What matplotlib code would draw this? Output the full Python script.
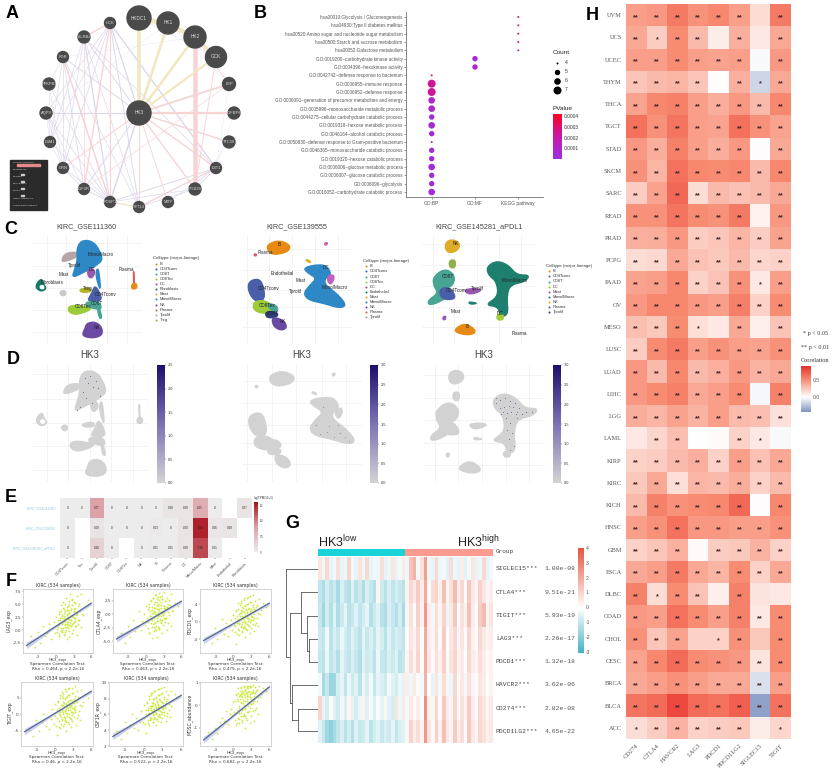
import numpy as np
import matplotlib
matplotlib.use("Agg")
import matplotlib.pyplot as plt
from matplotlib.colors import LinearSegmentedColormap, Normalize
from matplotlib.cm import ScalarMappable
from matplotlib.patches import Rectangle

plt.rcParams['font.family'] = ['Liberation Sans', 'DejaVu Sans']
plt.rcParams['mathtext.default'] = 'regular'

W, H = 833, 768

# ------------- A network
node_names = ["HKDC1", "HK1", "HK2", "GCK", "LEP", "IGFBP6", "TTC39", "LST1", "PTGDS", "MITF",
              "SYTL3", "FOXP1", "IGF2R", "GRN", "LSM1", "AQP9", "PFKFB3", "FGR", "LILRB2", "HCK", "HK3"]
node_x = [139, 168, 195, 216, 229, 234, 229, 216, 195, 168, 139, 110, 84, 63, 50, 46, 49, 63, 84, 110, 139]
node_y = [18, 23, 37, 57, 84, 113, 142, 168, 189, 202, 207, 202, 189, 168, 142, 113, 84, 57, 37, 23, 113]
node_r = [12, 11, 11, 10.5, 6.5, 6, 6, 5.5, 6, 5.5, 5.5, 5.5, 5.5, 5.5, 5.5, 6, 6, 5.5, 6, 5.5, 12]
edges_khaki = [("HK3", "HKDC1", 4), ("HK3", "HK1", 3), ("HK3", "HK2", 3), ("HK3", "GCK", 2.5),
               ("HKDC1", "HK1", 3.5), ("HK1", "HK2", 3.5), ("HK2", "GCK", 4), ("HKDC1", "HK2", 1.5),
               ("FOXP1", "SYTL3", 1.5)]
edges_pink = [("HK2", "PTGDS", 5), ("HK3", "LEP", 2), ("HK3", "IGFBP6", 2.5), ("HK3", "TTC39", 1.5),
              ("HK3", "LST1", 1.5), ("HK3", "PTGDS", 1.5), ("HK3", "MITF", 1), ("HK3", "SYTL3", 1),
              ("GCK", "PTGDS", 1), ("HK2", "LEP", 1), ("GRN", "HK3", 1.2), ("IGF2R", "HCK", 1.5),
              ("FGR", "FOXP1", 1.5), ("HCK", "FOXP1", 1.2), ("LILRB2", "HCK", 1.5), ("IGF2R", "LILRB2", 0.8),
              ("LEP", "IGF2R", 0.7), ("LST1", "SYTL3", 1)]
edges_purple = [("HK3", "HCK", 1.3), ("HK3", "LILRB2", 1), ("HK3", "FGR", 1), ("HK3", "AQP9", 1.2),
                ("HK3", "FOXP1", 1.5), ("HK3", "IGF2R", 1), ("HCK", "LST1", 1.5), ("HCK", "GRN", 0.8),
                ("HCK", "SYTL3", 1), ("HCK", "LSM1", 0.7), ("HCK", "AQP9", 0.7), ("LILRB2", "FOXP1", 1.3),
                ("LILRB2", "GRN", 0.7), ("LILRB2", "LSM1", 0.7), ("LILRB2", "SYTL3", 0.7), ("LILRB2", "LST1", 0.8),
                ("FGR", "FOXP1", 1), ("FGR", "IGF2R", 0.8), ("FGR", "LSM1", 0.7), ("FGR", "GRN", 0.7),
                ("FGR", "SYTL3", 0.7), ("PFKFB3", "FOXP1", 0.7), ("PFKFB3", "LSM1", 0.6), ("PFKFB3", "GRN", 0.6),
                ("PFKFB3", "FGR", 0.6), ("AQP9", "FOXP1", 0.8), ("AQP9", "IGF2R", 0.6), ("AQP9", "GRN", 0.6),
                ("AQP9", "LSM1", 0.5), ("LSM1", "FOXP1", 0.7), ("LSM1", "GRN", 0.5), ("GRN", "FOXP1", 0.8),
                ("GRN", "IGF2R", 0.7), ("IGF2R", "FOXP1", 1), ("FOXP1", "LST1", 1), ("SYTL3", "LST1", 1.2),
                ("SYTL3", "PTGDS", 0.8), ("MITF", "LST1", 0.7), ("FOXP1", "PTGDS", 0.7), ("PTGDS", "LST1", 1)]
edges_blue = [("HK3", "TTC39", 0.7), ("GCK", "HKDC1", 0.7), ("HK1", "LEP", 0.5), ("LEP", "LST1", 0.5),
              ("IGFBP6", "LST1", 0.5), ("TTC39", "PTGDS", 0.5), ("HK2", "FGR", 0.5), ("HK1", "AQP9", 0.5),
              ("GCK", "HK3", 0.6), ("HK1", "HK3", 0.7)]
legend_a_rows = ["Physical Interactions", "Co-expression", "Predicted", "Co-localization", "Pathway",
                 "Genetic Interactions", "Shared protein domains"]

# ------------- B dot plot
terms = ["hsa00010:Glycolysis / Gluconeogenesis", "hsa04930:Type II diabetes mellitus",
         "hsa00520:Amino sugar and nucleotide sugar metabolism", "hsa00500:Starch and sucrose metabolism",
         "hsa00052:Galactose metabolism", "GO:0019200~carbohydrate kinase activity",
         "GO:0004396~hexokinase activity", "GO:0042742~defense response to bacterium",
         "GO:0006955~immune response", "GO:0006952~defense response",
         "GO:0006091~generation of precursor metabolites and energy", "GO:0005996~monosaccharide metabolic process",
         "GO:0044275~cellular carbohydrate catabolic process", "GO:0019318~hexose metabolic process",
         "GO:0046164~alcohol catabolic process", "GO:0050830~defense response to Gram-positive bacterium",
         "GO:0046365~monosaccharide catabolic process", "GO:0019320~hexose catabolic process",
         "GO:0006006~glucose metabolic process", "GO:0006007~glucose catabolic process",
         "GO:0006096~glycolysis", "GO:0016052~carbohydrate catabolic process"]
term_cat = [2, 2, 2, 2, 2, 1, 1, 0, 0, 0, 0, 0, 0, 0, 0, 0, 0, 0, 0, 0, 0, 0]
term_count = [4, 4, 4, 4, 4, 5, 5, 4, 7, 7, 6, 6, 5, 6, 5, 4, 5, 5, 6, 5, 5, 6]
term_p = [0.0003, 0.0003, 0.00028, 0.00025, 0.00012, 0.00005, 0.00005, 0.00028, 0.00022, 0.00022,
          0.00007, 0.00007, 0.00005, 0.00005, 0.00005, 0.0002, 0.00003, 0.00003, 0.00004, 0.00003, 0.00003, 0.00003]
cat_names = ["GO:BP", "GO:MF", "KEGG pathway"]
count_levels = [4, 5, 6, 7]
count_diam = [2.0, 5.4, 6.6, 8.0]

# ------------- C / D umap outlines
colB, colCD4, colCD8, colEx, colDC = "#e68a14", "#4a5fa8", "#48a592", "#9dcb3a", "#9a55ae"
colFib, colMast, colMono, colNK = "#167a66", "#e0ac25", "#2f88c6", "#6a4aa3"
colPla, colTp, colTr = "#d9605a", "#b4a6a6", "#b3b52b"

umap1 = [
    (colTp, [185, 195, 230, 232, 210, 190], [150, 130, 125, 140, 150, 155]),
    (colMono, [240, 262, 285, 300, 308, 290, 275, 255, 215, 225, 232, 230],
     [95, 90, 100, 125, 150, 165, 175, 185, 205, 175, 150, 120]),
    (colMono, [295, 302, 298, 286], [170, 232, 236, 190]),
    (colDC, [262, 280, 285, 275, 265], [180, 175, 190, 205, 200]),
    (colCD4, [285, 300, 305, 285, 262, 275], [225, 250, 270, 275, 272, 250]),
    (colCD8, [258, 300, 305, 280, 258], [275, 275, 300, 295, 290]),
    (colCD8, [292, 300, 306, 298], [298, 298, 325, 325]),
    (colEx, [205, 225, 255, 275, 260, 225, 205], [290, 285, 290, 295, 305, 315, 305]),
    (colTr, [237, 270, 275, 245], [238, 232, 245, 248]),
    (colFib, [110, 125, 130, 140, 125, 108], [220, 205, 222, 235, 245, 235]),
    ("white", [120, 130, 132, 122], [228, 226, 236, 236]),
    ("#c9c9c9", [178, 195, 198, 185], [245, 240, 255, 258]),
    (colNK, [260, 285, 305, 308, 280, 245, 255], [340, 335, 350, 375, 385, 378, 355]),
    (colPla, [400, 402, 403, 401], [185, 185, 220, 220]),
    (colB, [395, 408, 412, 395], [222, 218, 235, 238]),
]
umap1_labels = [("Mono/Macro", 302, 135), ("Tprolif", 224, 168), ("Mast", 190, 193), ("Fibroblasts", 155, 217),
                ("Plasma", 378, 180), ("DC", 276, 180), ("Treg", 263, 237), ("CD4Tconv", 318, 254),
                ("CD8Tex", 250, 291), ("CD8T", 290, 280), ("NK", 290, 352)]
umap1_gridx = [140, 198, 260, 322, 382]
umap1_gridy = [100, 168, 235, 300, 365]

umap2 = [
    (colB, [-70, -35, 2, -5, -45, -65], [105, 90, 105, 125, 135, 125]),
    (colPla, [-108, -102, -100, -106], [133, 131, 137, 138]),
    (colCD4, [-125, -95, -80, -75, -105, -125], [215, 205, 225, 270, 275, 245]),
    (colEx, [-110, -75, -50, -55, -85, -110], [275, 270, 290, 310, 310, 300]),
    (colCD8, [-70, -40, -35, -60], [280, 285, 305, 300]),
    ("#2f3f7a", [-75, -40, -35, -70], [305, 305, 320, 325]),
    (colNK, [-55, -20, -8, -25, -50], [320, 330, 352, 362, 350]),
    (colMono, [40, 70, 110, 125, 105, 105, 140, 170, 150, 100, 55, 40, 60, 80, 55],
     [175, 165, 165, 195, 205, 225, 250, 285, 295, 280, 270, 250, 225, 205, 190]),
    ("#c860c0", [115, 135, 125, 112], [195, 195, 225, 215]),
    (colMast, [50, 62, 60, 48], [148, 155, 158, 152]),
    ("#c860a0", [105, 113, 110, 104], [98, 98, 105, 105]),
]
umap2_labels = [("B", -32, 105), ("Plasma", -73, 128), ("Endothelial", -22, 190), ("CD4Tconv", -65, 237),
                ("CD8Tex", -68, 287), ("CD8T", -50, 312), ("NK", -22, 335), ("Mast", 33, 213),
                ("Tprolif", 15, 245), ("Mono/Macro", 135, 232), ("DC", 107, 172)]
umap2_gridx = [-130, -62, 5, 75, 143]
umap2_gridy = [118, 180, 240, 290, 350]

umap3 = [
    (colMast, [468, 490, 510, 505, 480, 465], [95, 88, 100, 120, 130, 118]),
    ("#8fb04a", [478, 497, 495, 478], [150, 150, 175, 172]),
    (colCD8, [430, 465, 495, 490, 470, 475, 440, 415, 415, 445, 430],
     [200, 175, 195, 225, 235, 260, 280, 285, 270, 250, 225]),
    (colCD4, [450, 480, 500, 470, 450], [235, 232, 265, 270, 260]),
    (colDC, [520, 550, 580, 540], [240, 235, 240, 255]),
    ("#1f7f6e", [590, 620, 655, 680, 720, 705, 660, 650, 655, 630, 625, 585, 625, 620, 595],
     [170, 152, 165, 195, 195, 215, 225, 260, 315, 320, 290, 285, 260, 215, 195]),
    ("#1f7f6e", [535, 565, 540], [275, 280, 283]),
    (colEx, [620, 640, 640, 622], [315, 312, 330, 330]),
    (colB, [490, 525, 560, 545, 510], [360, 338, 362, 375, 372]),
    (colDC, [460, 468, 466, 458], [320, 318, 330, 328]),
]
umap3_labels = [("NK", 498, 100), ("CD8T", 473, 200), ("CD4Tconv", 500, 243), ("Tprolif", 563, 236),
                ("Mono/Macro", 675, 211), ("Mast", 497, 306), ("DC", 630, 310), ("B", 532, 350),
                ("Plasma", 687, 372)]
umap3_gridx = [428, 493, 560, 627, 692]
umap3_gridy = [103, 165, 228, 290, 352]

legend1 = [("B", colB), ("CD4Tconv", colCD4), ("CD8T", colCD8), ("CD8Tex", colEx), ("DC", colDC), ("Fibroblasts", colFib),
           ("Mast", colMast), ("Mono/Macro", colMono), ("NK", colNK), ("Plasma", colPla), ("Tprolif", colTp), ("Treg", colTr)]
legend2 = [("B", colB), ("CD4Tconv", colCD4), ("CD8T", colCD8), ("CD8Tex", colEx), ("DC", colDC), ("Endothelial", colFib),
           ("Mast", colMast), ("Mono/Macro", colMono), ("NK", colNK), ("Plasma", colPla), ("Tprolif", colTp)]
legend3 = [("B", colB), ("CD4Tconv", colCD4), ("CD8T", colCD8), ("DC", colEx), ("Mast", colDC),
           ("Mono/Macro", "#1f7f6e"), ("NK", colMast), ("Plasma", colCD4), ("Tprolif", "#2f3f7a")]

spec1_x = [248, 255, 262, 270, 278, 285, 240, 250, 290, 268, 232, 225]
spec1_y = [110, 125, 105, 135, 118, 140, 150, 165, 160, 180, 190, 200]
spec2_x = [60, 90, 120, 70, 110, 140, 95, 80, 150, 125]
spec2_y = [240, 260, 240, 265, 275, 275, 245, 190, 285, 262]
spec3_x = [600, 612, 625, 640, 652, 665, 610, 622, 635, 648, 660, 672, 618, 630, 642, 655, 685, 700, 640, 632, 645, 636, 650, 640, 600, 615, 628, 660]
spec3_y = [180, 172, 165, 175, 180, 195, 195, 190, 188, 192, 205, 210, 205, 208, 204, 212, 205, 205, 235, 255, 262, 280, 300, 310, 165, 210, 222, 222]

# ------------- E heatmap
e_rows = ["KIRC_GSE111360", "KIRC_GSE139555", "KIRC_GSE145281_aPDL1"]
e_cols = ["CD4Tconv", "Tex", "Tprolif", "CD8T", "CD8Tex", "NK", "B", "Plasma", "DC", "Mono/Macro", "Mast",
          "Endothelial", "Fibroblasts"]
e_vals = [[0, 0, 0.77, 0, 0, 0, 0, 0.08, 0.08, 0.65, 0, np.nan, 0.07],
          [0, np.nan, 0.09, 0, 0, 0, 0.03, 0, 0.09, 1.5, 0.06, 0.08, np.nan],
          [0, np.nan, 0.28, 0, np.nan, 0, 0.01, 0.01, 0.08, 1.28, 0.01, np.nan, np.nan]]

# ------------- F scatter panels
hk3_x = [-4.3, -3.6, -3.1, -2.7, -2.2, -1.9, -1.5, -1.2, -0.9, -0.6,
         -0.4, -0.2, 0.0, 0.1, 0.2, 0.3, 0.4, 0.5, 0.6, 0.6,
         0.7, 0.8, 0.9, 0.9, 1.0, 1.0, 1.1, 1.2, 1.2, 1.3,
         1.3, 1.4, 1.5, 1.5, 1.6, 1.6, 1.7, 1.8, 1.8, 1.9,
         1.9, 2.0, 2.0, 2.1, 2.2, 2.2, 2.3, 2.3, 2.4, 2.5,
         2.5, 2.6, 2.7, 2.8, 2.8, 2.9, 3.0, 3.1, 3.2, 3.3,
         3.4, 3.5, 3.6, 3.8, 3.9, 4.1, 4.3, 4.6, 5.0, 5.4,
         0.3, 0.5, 0.6, 0.7, 0.8, 0.9, 1.0, 1.1, 1.1, 1.2,
         1.2, 1.3, 1.3, 1.4, 1.4, 1.5, 1.5, 1.6, 1.6, 1.7,
         1.7, 1.8, 1.8, 1.9, 1.9, 2.0, 2.0, 2.1, 2.1, 2.2,
         2.2, 2.3, 2.3, 2.4, 2.4, 2.5, 2.5, 2.6, 2.6, 2.7,
         2.7, 2.8, 2.8, 2.9, 2.9, 3.0, 3.0, 3.1, 3.1, 3.2,
         3.3, 3.3, 3.4, 3.5, 3.6, 3.7, 3.8, 4.0, 4.2, 4.4]
lag3_y = [-1.2, -3.2, -0.4, -2.6, 0.8, -1.1, -0.6, 1.2, -1.8, 0.3,
          1.5, -0.5, 2.6, 0.2, -0.4, 1.9, 0.6, 3.2, -0.7, 1.4,
          2.3, 0.4, 3.7, -0.2, 1.1, 2.8, 0.0, 4.3, 1.6, -0.9,
          2.4, 3.3, 0.9, 1.8, 5.1, -0.3, 2.1, 1.2, 3.9, 0.5,
          2.9, 1.5, 4.6, 2.2, -1.4, 3.4, 1.0, 5.6, 2.6, 0.7,
          3.8, 1.9, 4.9, 2.7, 6.1, 1.3, 3.5, 5.4, 2.3, 4.2,
          0.8, 6.6, 3.1, 2.0, 5.0, 3.6, 6.9, 2.9, 4.7, 5.9,
          0.9, 3.4, -1.1, 2.0, 4.8, 1.3, -0.4, 3.0, 2.4, 0.3,
          5.5, 1.7, 2.8, -0.8, 4.1, 0.6, 3.6, 1.1, 2.2, 6.3,
          0.1, 3.2, 1.5, 4.5, -1.7, 2.6, 1.0, 3.9, 0.4, 5.0,
          2.1, -0.2, 3.3, 1.4, 6.9, 2.7, 0.8, 4.3, 1.9, -0.6,
          3.0, 5.9, 1.2, 2.5, 0.0, 4.0, 1.6, 3.7, 2.3, 0.7,
          5.2, 1.8, 2.9, -1.0, 3.5, 1.1, 4.6, 2.0, 0.5, 3.1]
ctla4_y = [-3.5, -5.4, -2.2, -4.3, -1.0, -3.1, -2.4, 0.6, -2.9, -1.3,
           0.1, -2.0, 1.5, -1.4, -0.6, 0.9, -2.6, 2.0, -0.9, -3.4,
           0.7, -1.7, 2.6, -0.3, -4.5, 1.4, -1.1, 3.0, 0.2, -2.3,
           1.1, -0.7, 2.3, -1.6, 3.6, 0.4, -3.0, 1.7, 0.0, 2.9,
           -1.2, 1.0, 3.3, -0.4, 1.9, -2.7, 0.6, 3.9, -0.9, 2.2,
           1.2, -1.5, 2.8, 0.3, 3.4, -0.2, 1.6, 4.2, 0.9, 2.5,
           -0.6, 3.1, 1.3, 0.5, 2.7, 1.8, 3.7, 0.8, 2.1, 1.5,
           -1.2, 1.3, -3.4, -0.3, 2.5, -0.9, -2.4, 0.8, 0.2, -1.9,
           3.0, -0.5, 0.6, -3.1, 1.9, -1.5, 1.1, -2.8, 0.1, 3.6,
           -2.1, 0.9, -0.7, 2.2, -4.2, 0.3, -1.3, 1.5, -2.3, 2.7,
           -0.1, -2.6, 1.0, -1.1, 3.3, 0.4, -1.7, 1.8, -0.4, -3.5,
           0.7, 2.9, -1.0, 0.0, -2.0, 1.6, -0.6, 1.2, 0.5, -1.4,
           2.4, -0.8, 0.9, -3.0, 1.4, -1.6, 2.0, -0.2, -2.2, 0.6]
pdcd1_y = [-3.6, -4.8, -1.5, -3.9, -2.0, 0.6, -2.8, -0.4, -3.2, -1.1,
           0.3, -1.9, 1.6, -0.8, -2.3, 0.9, -5.0, 2.4, -0.3, 1.2,
           -1.6, 3.0, 0.2, -3.0, 1.8, -0.6, 3.7, 0.7, -1.3, 2.6,
           4.3, -0.1, 1.4, -2.1, 3.2, 0.5, -0.9, 2.1, 5.0, 1.0,
           -1.5, 3.5, 0.0, 2.7, 1.3, 5.5, -0.5, 2.0, 4.0, 0.8,
           3.0, -1.0, 1.7, 5.8, 2.4, 0.4, 4.5, 1.1, 3.3, 6.2,
           0.9, 2.8, 4.8, -0.3, 3.8, 1.9, 5.2, 2.6, 4.2, 3.4,
           -1.0, 2.6, -2.8, 0.7, 4.2, -0.2, -1.9, 2.0, 1.2, -0.9,
           4.8, 0.5, 1.9, -2.4, 3.4, -0.6, 2.4, -1.5, 1.0, 5.4,
           -1.2, 2.2, 0.2, 3.7, -3.6, 1.5, -0.3, 2.9, -1.6, 4.0,
           0.9, -2.0, 2.3, 0.1, 5.7, 1.6, -0.8, 3.1, 0.6, -2.6,
           1.9, 4.6, -0.1, 1.3, -1.4, 2.8, 0.3, 2.5, 1.1, -0.5,
           3.9, 0.4, 1.7, -2.2, 2.7, -0.7, 3.3, 0.8, -1.1, 1.8]
tigit_y = [-4.6, -6.5, -1.8, -5.0, -2.4, 0.2, -3.6, -0.8, -4.3, -1.5,
           1.5, -2.8, 3.0, -0.6, -3.4, 1.2, -6.3, 3.9, 0.1, 1.9,
           -2.0, 4.8, 0.8, -4.0, 2.7, -0.9, 5.5, 1.3, -1.7, 3.6,
           6.2, 0.2, 2.2, -2.9, 4.6, 1.0, -1.2, 3.0, 7.0, 1.6,
           -2.2, 5.1, 0.5, 3.8, 2.0, 7.5, -0.7, 2.9, 5.9, 1.4,
           4.2, -1.4, 2.5, 8.0, 3.4, 0.7, 6.4, 1.8, 4.7, 8.4,
           1.3, 3.9, 6.9, -0.2, 5.3, 2.9, 7.3, 3.7, 6.0, 4.8,
           -1.2, 3.6, -3.8, 1.0, 5.9, -0.3, -2.8, 2.8, 1.7, -1.4,
           6.8, 0.8, 2.7, -3.4, 4.8, -0.9, 3.4, -2.1, 1.4, 7.6,
           -1.8, 3.1, 0.3, 5.2, -5.0, 2.1, -0.4, 4.1, -2.3, 5.7,
           1.2, -2.9, 3.2, 0.2, 8.0, 2.3, -1.1, 4.4, 0.8, -3.7,
           2.7, 6.5, -0.2, 1.8, -2.0, 3.9, 0.4, 3.5, 1.5, -0.7,
           5.5, 0.6, 2.4, -3.1, 3.8, -1.0, 4.7, 1.1, -1.6, 2.6]
csf1r_y = [3.9, 2.9, 5.0, 3.6, 4.6, 6.0, 4.3, 5.5, 4.0, 5.1,
           6.4, 5.0, 7.2, 5.6, 4.8, 6.6, 3.7, 7.6, 6.0, 6.8,
           5.3, 8.0, 6.2, 4.6, 7.1, 5.7, 8.4, 6.5, 5.4, 7.4,
           8.7, 6.1, 7.0, 5.0, 7.9, 6.5, 5.7, 7.3, 9.0, 6.8,
           5.4, 8.2, 6.2, 7.6, 6.9, 9.2, 5.8, 7.2, 8.5, 6.6,
           7.9, 5.7, 7.0, 9.3, 7.6, 6.3, 8.7, 6.9, 8.0, 9.5,
           6.8, 7.7, 8.9, 6.2, 8.4, 7.3, 9.0, 7.8, 8.6, 8.2,
           6.0, 7.5, 4.9, 6.6, 8.3, 6.2, 5.3, 7.1, 6.8, 5.6,
           8.7, 6.4, 7.0, 5.0, 7.9, 5.9, 7.4, 5.4, 6.7, 9.0,
           5.5, 7.2, 6.3, 8.1, 4.6, 6.9, 6.0, 7.7, 5.4, 8.4,
           6.6, 5.2, 7.3, 6.1, 9.2, 6.9, 5.8, 7.8, 6.4, 5.0,
           7.0, 8.6, 6.1, 6.8, 5.6, 7.6, 6.3, 7.5, 6.7, 5.9,
           8.2, 6.3, 7.0, 5.2, 7.4, 5.8, 8.0, 6.5, 5.7, 7.1]
mdsc_y = [-1.2, -1.5, -1.0, -1.25, -0.75, -0.55, -0.7, -0.25, -0.85, -0.4,
          -0.15, -0.5, 0.15, -0.3, -0.65, 0.2, -0.9, 0.45, -0.2, 0.3,
          -0.55, 0.55, -0.05, -0.8, 0.4, -0.35, 0.65, 0.15, -0.5, 0.5,
          0.75, -0.15, 0.35, -0.65, 0.6, 0.1, -0.4, 0.45, 0.8, 0.2,
          -0.5, 0.7, -0.1, 0.55, 0.3, 0.85, -0.3, 0.4, 0.75, 0.1,
          0.6, -0.25, 0.35, 0.85, 0.5, 0.05, 0.8, 0.25, 0.6, 0.9,
          0.2, 0.55, 0.8, -0.1, 0.7, 0.35, 0.85, 0.5, 0.75, 0.65,
          -0.4, 0.5, -0.8, 0.2, 0.75, -0.1, -0.6, 0.45, 0.3, -0.35,
          0.8, 0.1, 0.4, -0.75, 0.65, -0.2, 0.55, -0.5, 0.25, 0.85,
          -0.45, 0.5, 0.0, 0.7, -1.0, 0.35, -0.15, 0.6, -0.55, 0.75,
          0.2, -0.65, 0.5, -0.05, 0.85, 0.4, -0.3, 0.65, 0.15, -0.8,
          0.35, 0.8, -0.1, 0.3, -0.5, 0.6, 0.05, 0.55, 0.25, -0.25,
          0.7, 0.1, 0.4, -0.7, 0.55, -0.2, 0.65, 0.2, -0.4, 0.35]
f_ylabels = ["LAG3_exp", "CTLA4_exp", "PDCD1_exp", "TIGIT_exp", "CSF1R_exp", "MDSC_abundance"]
f_rho = ["0.464", "0.463", "0.479", "0.46", "0.522", "0.682"]
f_ylim = [(-4.46, 7.96), (-7.2, 4.7), (-7.15, 7.46), (-9.5, 9.7), (2.0, 10.1), (-1.82, 1.04)]
f_yticks = [[-2.5, 0, 2.5, 5, 7.5], [-5, -2.5, 0, 2.5], [-4, 0, 4], [-5, 0, 5], [2, 4, 6, 8, 10], [-1, 0, 1]]
f_yticklabels = [["-2.5", "0.0", "2.5", "5.0", "7.5"], ["-5.0", "-2.5", "0.0", "2.5"], ["-4", "0", "4"],
                 ["-5", "0", "5"], ["2", "4", "6", "8", "10"], ["-1", "0", "1"]]
f_line_y = [(-3.0, 5.2), (-4.6, 2.4), (-4.3, 4.2), (-5.2, 6.9), (3.2, 8.4), (-1.55, 0.82)]
f_boxes = [(23, 589, 93, 653), (113, 589, 183, 653), (200, 589, 271, 653),
           (21, 682, 93, 746), (109, 682, 183, 746), (200, 682, 271, 746)]
line_x = [-5.0, 6.0]
band_x = [-5.0, -2.0, 1.5, 4.0, 6.0]
band_frac = [0.05, 0.028, 0.01, 0.018, 0.03]

# ------------- G heatmap
g_genes = ["SIGLEC15***", "CTLA4***", "TIGIT***", "LAG3***", "PDCD1***", "HAVCR2***", "CD274***", "PDCD1LG2***"]
g_pvals = ["1.00e-08", "9.51e-21", "5.93e-19", "2.26e-17", "1.32e-18", "3.62e-06", "2.82e-08", "4.65e-22"]
g_vals = [
    [0.6, -0.3, 0.9, -0.4, -0.2, 0.8, -0.4, -0.3, 1.0, -0.2, -0.4, 0.7, -0.3, 0.9, -0.4, -0.2, -0.3, 0.8, -0.4, -0.3, 0.6, -0.4, -0.2, 0.5,
     -0.3, 1.4, 1.8, -0.2, 0.7, 2.2, -0.3, -0.4, 0.9, -0.3, -0.2, -0.5, 0.8, -0.3, -0.4, 0.4, -0.5, -0.2, 0.6, -0.4, -0.3, 0.9, -0.4, -0.2],
    [-1.0, -1.3, -0.7, -1.1, -0.8, -1.4, -0.6, -1.0, -1.2, -0.5, -1.1, -0.8, -1.3, -0.6, -0.9, -1.2, 0.2, -0.8, -1.1, -0.6, -1.0, -0.7, -0.9, -1.1,
     0.3, 0.9, 0.5, 1.2, 0.4, 2.0, 0.1, 0.8, 1.0, 0.3, 1.5, 0.2, 0.7, 1.6, 0.4, 0.9, 0.1, 1.3, 0.5, 0.2, 1.1, 0.6, -0.2, 0.4],
    [-0.9, -1.5, -0.7, -1.2, -0.5, -1.3, -0.8, -0.4, -1.1, -0.9, -0.5, -1.0, -0.7, -0.4, -1.2, -0.8, -0.5, -1.1, -1.3, -0.6, -0.9, -1.2, -0.7, -1.4,
     0.2, 0.7, -0.1, 1.1, 0.3, 2.4, 0.4, -0.2, 0.8, 0.2, 1.0, -0.3, 0.5, 1.3, 0.0, 0.7, 0.3, 1.5, 0.4, -0.1, 1.2, 1.6, 0.2, 0.6],
    [-0.8, -1.0, -0.2, -1.1, -0.6, -0.9, -0.3, -0.7, -1.0, -0.5, -0.8, -1.1, -0.4, -0.9, -0.6, -1.0, -0.4, -0.7, -1.1, -0.5, -0.9, -0.6, -0.8, -1.0,
     0.1, 0.6, 0.3, 0.9, -0.1, 2.0, 0.4, 0.2, 0.8, 0.1, 1.2, 0.0, 0.5, 0.9, 0.2, 0.6, -0.1, 1.0, 0.3, 0.1, 0.9, 0.5, 0.2, 0.4],
    [-0.9, -1.1, -0.3, -1.0, -0.7, -1.2, -0.4, -0.8, -1.0, -0.6, -0.9, -1.2, -0.5, -0.8, -0.7, -1.1, -0.3, -0.9, -1.0, -0.6, -0.8, -0.5, -1.1, -0.9,
     0.2, 0.8, 0.2, 1.0, 0.1, 1.9, 0.5, 0.1, 0.7, 0.3, 1.1, 0.1, 0.6, 1.0, 0.3, 0.5, 0.0, 0.9, 0.4, 0.2, 0.8, 0.4, 0.1, 0.3],
    [-0.2, -1.4, -0.9, -1.6, -1.5, -0.7, -0.4, -1.0, -0.3, -0.8, -0.5, -1.1, -0.3, -0.7, -0.2, -0.9, -0.4, -0.6, -0.8, -0.2, -0.5, -0.7, -0.3, -0.4,
     0.4, -0.3, 0.5, 0.1, -0.2, 1.8, 0.0, -0.4, 0.6, -0.2, 0.8, 0.2, -0.3, 0.9, 0.1, 0.5, -0.2, 0.7, 0.2, -0.1, 0.6, 0.4, 0.0, 0.3],
    [1.0, -0.4, -0.7, 0.1, -0.5, -0.8, -0.2, -0.6, 0.2, -0.4, -0.7, -0.3, 0.3, -0.5, -0.2, -0.6, -0.1, -0.4, 0.2, -0.5, -0.7, 0.6, -0.3, 0.5,
     -0.2, 0.5, 0.1, 0.4, -0.1, 2.6, 0.3, 0.2, 1.0, -0.1, 1.3, 0.4, 0.2, 1.0, 0.1, 0.7, 0.3, 1.2, 0.4, 0.0, 0.9, 0.6, 0.2, 0.5],
    [-0.5, -0.9, -1.5, -1.8, -1.4, -1.0, -0.6, -1.1, -0.7, -1.2, -0.5, -0.9, -0.8, -0.4, -1.1, -0.7, -0.5, -0.9, -0.6, -0.8, -0.4, -1.0, -0.6, -0.5,
     0.2, 1.0, 0.4, 0.8, 0.2, 2.4, 0.6, 0.1, 1.1, 0.3, 1.5, 0.5, 0.2, 1.2, 0.4, 0.8, 0.1, 1.3, 0.5, 0.2, 0.9, 0.7, 0.3, 0.5],
]
g_low_n = 24
g_ticks = [4, 3, 2, 1, 0, -1, -2, -3]
dend_seg_x = [[93, 93, 80], [93, 0], [80, 80], [80, 48], [48, 48], [48, 0], [48, 33], [33, 33], [33, 0], [33, 26], [26, 26], [26, 0], [26, 0],
              [80, 75], [75, 75], [75, 0], [75, 58], [58, 58], [58, 0], [58, 0]]
dend_seg_y = [[207, 472, 472], [207, 207], [340, 607], [340, 340], [277, 400], [277, 277], [400, 400], [347, 452], [347, 347], [452, 452], [416, 485], [416, 416], [485, 485],
              [607, 607], [555, 660], [555, 555], [660, 660], [625, 693], [625, 625], [693, 693]]

# ------------- H correlation heatmap
h_rows = ["UVM", "UCS", "UCEC", "THYM", "THCA", "TGCT", "STAD", "SKCM", "SARC", "READ", "PRAD", "PCPG", "PAAD", "OV", "MESO",
          "LUSC", "LUAD", "LIHC", "LGG", "LAML", "KIRP", "KIRC", "KICH", "HNSC", "GBM", "ESCA", "DLBC", "COAD", "CHOL", "CESC",
          "BRCA", "BLCA", "ACC"]
h_cols = ["CD274", "CTLA4", "HAVCR2", "LAG3", "PDCD1", "PDCD1LG2", "SIGLEC15", "TIGIT"]
h_vals = [[.42, .45, .58, .48, .52, .42, .15, .58], [.38, .22, .50, .30, .08, .35, .10, .38],
          [.42, .42, .50, .42, .40, .42, -.02, .45], [.25, .30, .32, .25, .01, .35, -.17, .38],
          [.40, .52, .55, .42, .36, .45, .30, .52], [.62, .48, .60, .42, .40, .62, .48, .40],
          [.45, .36, .55, .42, .36, .45, .01, .38], [.48, .32, .62, .52, .50, .52, .30, .52],
          [.22, .40, .66, .15, .30, .27, .30, .38], [.48, .48, .60, .50, .48, .58, .06, .45],
          [.35, .36, .45, .22, .25, .32, .22, .40], [.15, .17, .38, .27, .24, .30, .18, .20],
          [.40, .42, .52, .20, .26, .48, .10, .42], [.45, .52, .52, .45, .42, .56, .20, .50],
          [.28, .24, .50, .14, .10, .38, .07, .26], [.22, .50, .58, .42, .48, .42, .40, .48],
          [.45, .30, .52, .30, .35, .45, .33, .38], [.45, .50, .55, .38, .42, .50, -.03, .55],
          [.36, .32, .40, .33, .42, .30, .28, .13], [.10, .18, .28, .00, .02, .20, .10, -.02],
          [.20, .22, .30, .35, .20, .42, .27, .38], [.24, .38, .14, .32, .30, .36, .20, .30],
          [.30, .55, .48, .50, .52, .66, .01, .52], [.42, .48, .62, .45, .45, .42, .42, .48],
          [.20, .25, .34, .02, .22, .24, .33, .20], [.38, .42, .58, .38, .32, .50, .20, .38],
          [.55, .15, .50, .26, .07, .55, .12, .10], [.45, .42, .62, .50, .42, .55, .10, .50],
          [.48, .25, .40, .20, .20, .48, .24, .50], [.40, .52, .65, .50, .48, .45, .12, .50],
          [.38, .42, .48, .42, .38, .38, -.12, .42], [.60, .65, .80, .65, .62, .70, -.38, .62],
          [.15, .22, .33, .20, .22, .24, .08, .18]]
h_stars = ["** ** ** ** ** ** - **", "** * ** ** - ** - **", "** ** ** ** ** ** - **", "** ** ** ** - ** * **",
           "** ** ** ** ** ** ** **", "** ** ** ** ** ** ** **", "** ** ** ** ** ** - **", "** ** ** ** ** ** ** **",
           "** ** ** ** ** ** ** **", "** ** ** ** ** ** - **", "** ** ** ** ** ** ** **", "** ** ** ** ** ** ** **",
           "** ** ** ** ** ** * **", "** ** ** ** ** ** ** **", "** ** ** * - ** - **", "** ** ** ** ** ** ** **",
           "** ** ** ** ** ** ** **", "** ** ** ** ** ** - **", "** ** ** ** ** ** ** **", "- ** ** - - ** * -",
           "** ** ** ** ** ** ** **", "** ** ** ** ** ** ** **", "** ** ** ** ** ** - **", "** ** ** ** ** ** ** **",
           "** ** ** - ** ** ** **", "** ** ** ** ** ** ** **", "** * ** ** - ** - -", "** ** ** ** ** ** ** **",
           "** ** ** - * ** - **", "** ** ** ** ** ** ** **", "** ** ** ** ** ** ** **", "** ** ** ** ** ** ** **",
           "* ** ** ** ** ** - *"]

fig = plt.figure(figsize=(W / 100, H / 100), dpi=100, facecolor='white')


def px_ax(x0, y0, x1, y1, **kw):
    return fig.add_axes([x0 / W, 1 - y1 / H, (x1 - x0) / W, (y1 - y0) / H], **kw)


def bar(x0, y0, x1, y1, cmap, vmin, vmax, ticks, labels, fs=2.8, col='#333333', tlen=1):
    cax = px_ax(x0, y0, x1, y1)
    cb = fig.colorbar(ScalarMappable(Normalize(vmin, vmax), cmap), cax=cax)
    cb.outline.set_visible(False)
    cb.set_ticks(ticks, labels=labels)
    cax.tick_params(labelsize=fs, length=tlen, width=0.3, pad=1, colors=col)
    return cax


def rounded(xs, ys, n=3):
    # corner cutting so the cluster outlines look like blobs
    p = np.column_stack([xs, ys]).astype(float)
    for _ in range(n):
        q = np.roll(p, -1, axis=0)
        p = np.column_stack([0.75 * p + 0.25 * q, 0.25 * p + 0.75 * q]).reshape(-1, 2)
    return p[:, 0], p[:, 1]


# ------------- A
ax = px_ax(0, 0, 250, 215)
ax.set_xlim(0, 250)
ax.set_ylim(215, 0)
ax.axis('off')
lookup = {n: (x, y) for n, x, y in zip(node_names, node_x, node_y)}
for group, col in [(edges_blue, "#e3e9f5"), (edges_purple, "#ddd5ea"), (edges_pink, "#f8d3d6"), (edges_khaki, "#f1e8c2")]:
    for a, b, w in group:
        ax.plot([lookup[a][0], lookup[b][0]], [lookup[a][1], lookup[b][1]], color=col, lw=w * 0.65,
                solid_capstyle='butt', zorder=1)
for n, x, y, r in zip(node_names, node_x, node_y, node_r):
    ax.add_patch(plt.Circle((x, y), r, color='#4a4a4a', zorder=3))
    ax.text(x, y, n, color='#dddddd', fontsize=2.9 if r < 10 else 3.4, ha='center', va='center', zorder=4)
ax.add_patch(Rectangle((10, 160), 37, 50, color='#2b2b2b', zorder=5))
ax.add_patch(Rectangle((17, 164), 23, 2, color='#e58a8a', zorder=6))
for i, s in enumerate(legend_a_rows):
    ax.text(13, 162 + i * 7.2, s, color='#dddddd', fontsize=1.6, va='center', zorder=6)
    if i in (1, 2, 3, 4):
        ax.add_patch(Rectangle((21, 166.5 + i * 7.2), 3, 1.2, color='#cccccc', zorder=6))

# ------------- B
ax = px_ax(405.7, 12, 543, 197)
ax.set_xlim(-0.6, 2.57)
ax.set_ylim(-0.6, 21.6)
ypos = list(range(len(terms)))[::-1]
sizes = [(count_diam[count_levels.index(c)] * 0.72) ** 2 for c in term_count]
bcmap = LinearSegmentedColormap.from_list("bp", ["#9a30e0", "#c81aa8", "#ff0020"])
ax.scatter(term_cat, ypos, s=sizes, c=term_p, cmap=bcmap, vmin=0, vmax=0.0004, linewidths=0)
ax.set_yticks(ypos, terms)
ax.set_xticks([0, 1, 2], cat_names)
ax.tick_params(axis='y', labelsize=3.3, length=1.2, width=0.4, pad=1, labelcolor='#555555', color='#555555')
ax.tick_params(axis='x', labelsize=3.5, length=1.2, width=0.4, pad=2, labelcolor='#555555', color='#555555')
for s in ['top', 'right']:
    ax.spines[s].set_visible(False)
for s in ['left', 'bottom']:
    ax.spines[s].set_linewidth(0.5)
    ax.spines[s].set_color('#555555')
bar(553, 114, 562, 159, bcmap, 0, 0.00042, [0.0001, 0.0002, 0.0003, 0.0004],
    ["0.0001", "0.0002", "0.0003", "0.0004"], fs=3.5, tlen=0)

# ------------- C / D
for outlines, labels, gx, gy, lim, cbox, dbox, spx, spy, speck_col in [
    (umap1, umap1_labels, umap1_gridx, umap1_gridy, (96, 426, 399, 75), (32, 235, 142, 343), (32, 365, 148, 482),
     spec1_x, spec1_y, "#6c62a8"),
    (umap2, umap2_labels, umap2_gridx, umap2_gridy, (-141, 186, 399, 75), (243, 235, 352, 343), (243, 365, 362, 482),
     spec2_x, spec2_y, "#8f8ab8"),
    (umap3, umap3_labels, umap3_gridx, umap3_gridy, (396, 738, 399, 75), (422, 235, 536, 343), (424, 365, 545, 482),
     spec3_x, spec3_y, "#6f69ad"),
]:
    for k, box in enumerate([cbox, dbox]):
        ax = px_ax(*box)
        ax.set_xlim(lim[0], lim[1])
        ax.set_ylim(lim[2], lim[3])
        ax.set_xticks(gx)
        ax.set_yticks(gy)
        ax.grid(color='#eeeeee', lw=0.5)
        ax.set_axisbelow(True)
        ax.tick_params(length=0, labelbottom=False, labelleft=False)
        for s in ax.spines.values():
            s.set_visible(False)
        for col, xs, ys in outlines:
            rx, ry = rounded(xs, ys)
            if k == 0:
                ax.fill(rx, ry, color=col, lw=1.0, zorder=2)
            else:
                shade = 'white' if col == 'white' else '#d2d2d2'
                ax.fill(rx, ry, color=shade, lw=1.0, zorder=2)
        if k == 0:
            for s, x, y in labels:
                ax.text(x, y, s, fontsize=3.3, color='#222222', ha='center', va='center', zorder=3)
        else:
            ax.scatter(spx, spy, s=0.6, color=speck_col, linewidths=0, zorder=3)

dcmap = LinearSegmentedColormap.from_list("hk", ["#d3d3d3", "#7b72b5", "#1c0f6e"])
bar(157, 365, 165, 483, dcmap, 0, 2.5, [0, .5, 1, 1.5, 2, 2.5], ["0.0", "0.5", "1.0", "1.5", "2.0", "2.5"])
bar(370, 365, 378, 483, dcmap, 0, 3, [0, .5, 1, 1.5, 2, 2.5, 3], ["0.0", "0.5", "1.0", "1.5", "2.0", "2.5", "3.0"])
bar(553, 365, 561, 483, dcmap, 0, 3, [0, .5, 1, 1.5, 2, 2.5, 3], ["0.0", "0.5", "1.0", "1.5", "2.0", "2.5", "3.0"])

# ------------- E
ax = px_ax(60, 498, 252, 558)
ecmap = LinearSegmentedColormap.from_list("e", ["#ececec", "#dca0a6", "#a8101a"])
ecmap.set_bad('white')
e_arr = np.array(e_vals, dtype=float)
ax.imshow(e_arr, cmap=ecmap, vmin=0, vmax=1.6, aspect='auto', interpolation='nearest')
for r in range(e_arr.shape[0]):
    for c in range(e_arr.shape[1]):
        if not np.isnan(e_arr[r, c]):
            v = e_arr[r, c]
            ax.text(c, r, "0" if v == 0 else "%.2f" % v, fontsize=2.2, ha='center', va='center',
                    color='#222222')
ax.set_xticks(range(len(e_cols)), e_cols, rotation=45, ha='right', rotation_mode='anchor')
ax.set_yticks(range(3), e_rows)
ax.tick_params(axis='x', labelsize=2.8, length=0.8, width=0.3, pad=1.5, labelcolor='#555555')
ax.tick_params(axis='y', labelsize=2.6, length=0, pad=3, labelcolor='#8ec6dc')
for s in ax.spines.values():
    s.set_visible(False)
bar(254, 502, 258, 552, ecmap, 0, 1.6, [0, 0.5, 1.0, 1.5], ["0", "0.5", "1.0", "1.5"], fs=1.9, tlen=0)

# ------------- F
f_series = [lag3_y, ctla4_y, pdcd1_y, tigit_y, csf1r_y, mdsc_y]
for i, ys in enumerate(f_series):
    ax = px_ax(*f_boxes[i])
    ax.scatter(hk3_x, ys, s=1.8, color='#c9ea3f', linewidths=0, alpha=0.95)
    lo, hi = f_ylim[i]
    span = hi - lo
    y0, y1 = f_line_y[i]
    mid = np.interp(band_x, line_x, [y0, y1])
    hw = np.array(band_frac) * span
    ax.fill_between(band_x, mid - hw, mid + hw, color='#8f9bd6', alpha=0.45, lw=0)
    ax.plot(line_x, [y0, y1], color='#5a6899', lw=0.9)
    ax.set_xlim(-5.6, 6.3)
    ax.set_ylim(lo, hi)
    ax.set_xticks([-3, 0, 3, 6], ["-3", "0", "3", "6"], family='DejaVu Sans')
    ax.set_yticks(f_yticks[i], f_yticklabels[i], family='DejaVu Sans')
    ax.tick_params(labelsize=3.0, length=0.8, width=0.3, pad=0.8, colors='#444444')
    ax.set_ylabel(f_ylabels[i], fontsize=3.3, labelpad=1, color='#333333', family='DejaVu Sans')
    ax.set_title("KIRC (534 samples)", fontsize=3.3, pad=1.5, color='#333333', family='DejaVu Sans')
    for s in ax.spines.values():
        s.set_linewidth(0.4)
        s.set_color('#b5b5b5')

# ------------- G
gcmap = LinearSegmentedColormap.from_list("g", [(0, "#45b2c6"), (3 / 7, "#ffffff"), (1, "#e4553a")])
ax = px_ax(318, 557, 493, 743)
ax.imshow(np.array(g_vals), cmap=gcmap, vmin=-3, vmax=4, aspect='auto', interpolation='nearest')
ax.axis('off')

ax = px_ax(318, 549, 493, 556)
ax.imshow([[0] * g_low_n + [1] * (len(g_vals[0]) - g_low_n)],
          cmap=LinearSegmentedColormap.from_list("grp", ["#1ad3d8", "#fb9a8f"]), aspect='auto', interpolation='nearest')
ax.axis('off')

ax = px_ax(286, 557, 318, 743)
ax.set_xlim(93, 0)
ax.set_ylim(728, 172)
ax.axis('off')
for xs, ys in zip(dend_seg_x, dend_seg_y):
    ax.plot(xs, ys, color='#555555', lw=0.6)

cax = bar(578, 548, 584, 653, gcmap, -3.1, 4, g_ticks, [str(t) for t in g_ticks], fs=3.6, tlen=0)
cax.tick_params(colors='#555555', pad=1)

# ------------- H
hcmap = LinearSegmentedColormap.from_list(
    "h", [(0, "#7f93c0"), (0.44 / 1.35, "#ffffff"), (0.94 / 1.35, "#f88d74"), (1, "#e8312a")])
ax = px_ax(626, 4, 791, 739)
h_arr = np.array(h_vals)
ax.imshow(h_arr, cmap=hcmap, vmin=-0.44, vmax=0.91, aspect='auto', interpolation='nearest')
for r, line in enumerate(h_stars):
    for c, st in enumerate(line.split()):
        if st != '-':
            ax.text(c, r + 0.1, st, fontsize=5.2, fontweight='bold', ha='center', va='center', color='#4a2a2a',
                    family='Liberation Sans')
ax.set_yticks(range(len(h_rows)), h_rows, family='Liberation Serif')
ax.set_xticks(range(len(h_cols)), h_cols, rotation=45, ha='right', rotation_mode='anchor', family='Liberation Serif')
ax.tick_params(labelsize=4.6, length=0, pad=3, labelcolor='#555555')
for s in ax.spines.values():
    s.set_visible(False)
bar(801, 366, 811, 412, hcmap, -0.44, 0.91, [0, 0.5], ["0.0", "0.5"], fs=3.6, tlen=0, col='#555555')

# ------------- overlay text
ov = px_ax(0, 0, W, H)
ov.set_xlim(0, W)
ov.set_ylim(H, 0)
ov.axis('off')
ov.patch.set_visible(False)
for s, x, y in [("A", 12, 13), ("B", 260, 13), ("C", 11, 229), ("D", 13, 360), ("E", 11, 498), ("F", 11, 581),
                ("G", 292, 524), ("H", 592, 15)]:
    ov.text(x, y, s, fontsize=13, fontweight='bold', ha='center', va='center', color='black')

ov.text(553, 52, "Count", fontsize=4.6, va='center', color='#222222')
for c, d, y in zip(count_levels, count_diam, [62.6, 71.6, 80.6, 89.6]):
    ov.scatter([557], [y], s=(d * 0.72) ** 2, color='black', linewidths=0)
    ov.text(565, y, str(c), fontsize=3.6, va='center', color='#333333')
ov.text(553, 108, "PValue", fontsize=4.6, va='center', color='#222222')

for s, x in [("KIRC_GSE111360", 86), ("KIRC_GSE139555", 297), ("KIRC_GSE145281_aPDL1", 479)]:
    ov.text(x, 227, s, fontsize=5.2, ha='center', va='center', color='#444444')
for x in [90, 302, 484]:
    ov.text(x, 355, "HK3", fontsize=7, ha='center', va='center', color='#444444')
for items, tx, mx, y0 in [(legend1, 153, 156, 263.7), (legend2, 363, 366, 266.3), (legend3, 546, 549, 271.3)]:
    ov.text(tx, y0 - 5.5, "Celltype (major-lineage)", fontsize=3.2, va='center', color='#333333')
    for i, (s, col) in enumerate(items):
        ov.scatter([mx], [y0 + i * 5.1], s=2.2, color=col, linewidths=0)
        ov.text(mx + 4, y0 + i * 5.1, s, fontsize=2.9, va='center', color='#333333')
ov.text(254, 498, "log(TPM/10+1)", fontsize=2.2, va='center', color='#333333')

# F captions sit tight under each panel
for i, box in enumerate(f_boxes):
    xc = (box[0] + box[2]) / 2
    for off, s in [(7, "HK3_exp"), (11.2, "Spearman Correlation Test:"), (15.6, "Rho = %s, p < 2.2e-16" % f_rho[i])]:
        ov.text(xc, box[3] + off, s, fontsize=3.0, ha='center', va='center', color='#333333', family='DejaVu Sans')

ov.text(318, 542, r"HK3$^{low}$", fontsize=9, va='center', color='#222222')
ov.text(457, 542, r"HK3$^{high}$", fontsize=9, va='center', color='#222222')
ov.text(496, 552, "Group", fontsize=4.4, va='center', family='Liberation Mono', color='#444444')
for i, (g, p) in enumerate(zip(g_genes, g_pvals)):
    y = 569 + i * 23.2
    ov.text(496, y, g, fontsize=4.6, va='center', family='Liberation Mono', color='#444444')
    ov.text(545, y, p, fontsize=4.6, va='center', family='Liberation Mono', color='#555555')

ov.text(803, 334, "* p < 0.05", fontsize=4.4, va='center', family='Liberation Serif', color='#333333')
ov.text(801, 347, "** p < 0.01", fontsize=4.4, va='center', family='Liberation Serif', color='#333333')
ov.text(801, 360, "Correlation", fontsize=4.4, va='center', family='Liberation Serif', color='#333333')

fig.savefig("out.png", dpi=100)
